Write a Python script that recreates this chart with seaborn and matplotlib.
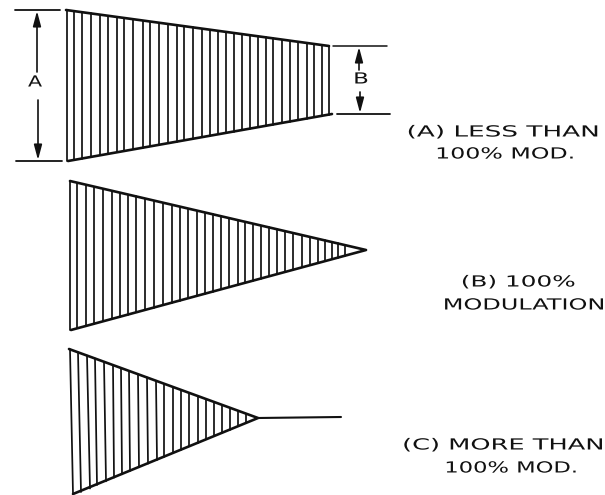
import pandas as pd
import matplotlib
matplotlib.use("Agg")
import matplotlib.pyplot as plt
from matplotlib.patheffects import AbstractPathEffect
from matplotlib.transforms import Affine2D
import seaborn as sns

## Data (picture pixels, y goes down)
a_outline_x = [66, 329, 332, 68]
a_outline_y = [10, 46, 114, 161]
a_hatch_x = [67, 74, 82, 91, 100, 108, 117, 124, 133, 143, 150, 159, 168, 177, 184, 193, 202,
             210, 218, 226, 234, 242, 250, 258, 266, 273, 282, 290, 298, 307, 314, 322, 329]
a_hatch_top = [10, 11, 12, 13.4, 14.7, 15.8, 17, 18, 19.2, 20.5, 21.5, 22.7, 24, 25.2, 26.2, 27.4, 28.6,
               29.7, 30.8, 31.9, 33, 34.1, 35.2, 36.3, 37.4, 38.3, 39.6, 40.7, 41.8, 43, 44, 45, 46]
a_hatch_bot = [161, 160, 158.5, 157, 155.3, 153.9, 152.3, 151, 149.4, 147.6, 146.4, 144.8, 143.2, 141.6, 140.4, 138.8, 137.1,
               135.7, 134.3, 132.9, 131.5, 130, 128.6, 127.2, 125.8, 124.5, 122.9, 121.5, 120.1, 118.5, 117.2, 115.8, 114.5]

b_outline_x = [70, 366, 71]
b_outline_y = [181, 250, 330]
b_hatch_x = [70, 77, 86, 94, 103, 112, 120, 128, 136, 145, 154, 163, 172, 180, 188, 197, 205, 213,
             221, 229, 238, 245, 253, 261, 269, 277, 285, 293, 302, 310, 318, 325, 332, 338, 345]
b_hatch_top = [181, 182.6, 184.7, 186.6, 188.7, 190.8, 192.7, 194.5, 196.4, 198.5, 200.6, 202.7, 204.8, 206.6, 208.5, 210.6, 212.5, 214.4,
               216.2, 218.1, 220.1, 221.8, 223.6, 225.5, 227.4, 229.2, 231.1, 233, 235, 236.9, 238.8, 240.4, 242, 243.4, 245]
b_hatch_bot = [330, 328.4, 325.9, 323.8, 321.3, 318.9, 316.7, 314.6, 312.4, 309.9, 307.5, 305.1, 302.6, 300.5, 298.3, 295.9, 293.7, 291.5,
               289.3, 287.2, 284.7, 282.8, 280.7, 278.5, 276.3, 274.2, 272, 269.8, 267.4, 265.2, 263.1, 261.2, 259.3, 257.7, 255.8]

c_outline_x = [69, 258, 73]
c_outline_y = [349, 418, 494]
c_stem_x = [258, 341]
c_stem_y = [418, 417]
c_hatch_x = [70, 78, 87, 95, 104, 113, 121, 129, 138, 147, 156, 164, 173, 181, 189, 198, 206, 214, 222, 230, 238, 246]
c_hatch_xb = [73, 81, 90, 97, 106, 114, 122, 130, 139, 148, 157, 164, 173, 181, 189, 198, 206, 214, 222, 230, 238, 246]
c_hatch_top = [349.4, 352.3, 355.6, 358.5, 361.8, 365.1, 368, 370.9, 374.2, 377.5, 380.8, 383.7, 387, 389.9, 392.8, 396.1, 399, 401.9, 404.8, 407.7, 410.6, 413.5]
c_hatch_bot = [494, 492, 488.5, 485, 481.3, 477.6, 474.3, 471, 467.3, 463.6, 460, 456.7, 453, 449.7, 446.3, 442.7, 439.4, 436.1, 432.8, 429.5, 426.2, 422.9]

# text, centre x, centre y, stretch
captions = ["(A) LESS THAN", "100% MOD.", "(B) 100%", "MODULATION", "(C) MORE THAN", "100% MOD."]
caption_x = [503, 505, 518, 524, 503, 511]
caption_y = [132, 154, 282, 305, 445, 468]
caption_stretch = [1.72, 1.55, 1.62, 1.57, 1.68, 1.48]

INK = "#111111"


class Stretch(AbstractPathEffect):
    # the scanned lettering is much wider than any installed font
    def __init__(self, cx, k):
        super().__init__()
        self.cx = cx
        self.k = k

    def draw_path(self, renderer, gc, tpath, affine, rgbFace=None):
        t = affine + Affine2D().translate(-self.cx, 0).scale(self.k, 1).translate(self.cx, 0)
        renderer.draw_path(gc, tpath, t, rgbFace)


def hatch_frame(x_top, x_bot, top, bot):
    rows = []
    for i in range(len(x_top)):
        rows.append({"line": i, "step": 0, "x": x_top[i], "y": top[i]})
        rows.append({"line": i, "step": 1, "x": x_bot[i], "y": bot[i]})
    return pd.DataFrame(rows)


def draw_hatch(ax, df):
    sns.lineplot(data=df, x="x", y="y", units="line", estimator=None, sort=False,
                 color=INK, linewidth=1.25, legend=False, ax=ax)


def draw_outline(ax, xs, ys, lw=1.9):
    df = pd.DataFrame({"x": xs, "y": ys})
    sns.lineplot(data=df, x="x", y="y", estimator=None, sort=False,
                 color=INK, linewidth=lw, legend=False, ax=ax)


def dim_arrow(ax, x, y_from, y_to):
    ax.annotate("", xy=(x, y_to), xytext=(x, y_from),
                arrowprops=dict(arrowstyle="-|>,head_length=0.75,head_width=0.2", color=INK,
                                lw=1.2, shrinkA=0, shrinkB=0))


sns.set_theme(style="white")
plt.rcParams["font.family"] = ["DejaVu Sans"]

fig = plt.figure(figsize=(6.05, 4.95), dpi=100)
ax = fig.add_axes([0, 0, 1, 1])
ax.set_xlim(0, 605)
ax.set_ylim(495, 0)
ax.axis("off")

draw_hatch(ax, hatch_frame(a_hatch_x, a_hatch_x, a_hatch_top, a_hatch_bot))
draw_hatch(ax, hatch_frame(b_hatch_x, b_hatch_x, b_hatch_top, b_hatch_bot))
draw_hatch(ax, hatch_frame(c_hatch_x, c_hatch_xb, c_hatch_top, c_hatch_bot))

draw_outline(ax, a_outline_x[:2], a_outline_y[:2])
draw_outline(ax, a_outline_x[2:], a_outline_y[2:])
draw_outline(ax, b_outline_x, b_outline_y)
draw_outline(ax, c_outline_x, c_outline_y)
draw_outline(ax, c_stem_x, c_stem_y, lw=1.5)

# dimension lines
draw_outline(ax, [15, 60], [10, 10], lw=1.3)
draw_outline(ax, [16, 62], [161, 161], lw=1.3)
draw_outline(ax, [333, 387], [46, 46], lw=1.1)
draw_outline(ax, [337, 390], [114, 114], lw=1.3)
dim_arrow(ax, 37, 72, 11)
dim_arrow(ax, 38, 100, 160)
dim_arrow(ax, 359, 70, 47)
dim_arrow(ax, 360, 92, 113)

fig.canvas.draw()
labels = list(zip(captions, caption_x, caption_y, caption_stretch)) + [("A", 35, 82, 1.35), ("B", 361, 79, 1.5)]
for s, x, y, k in labels:
    cx = ax.transData.transform((x, y))[0]
    ax.text(x, y, s, ha="center", va="center", fontsize=11, color=INK,
            path_effects=[Stretch(cx, k)])

plt.savefig("out.png", dpi=100)
